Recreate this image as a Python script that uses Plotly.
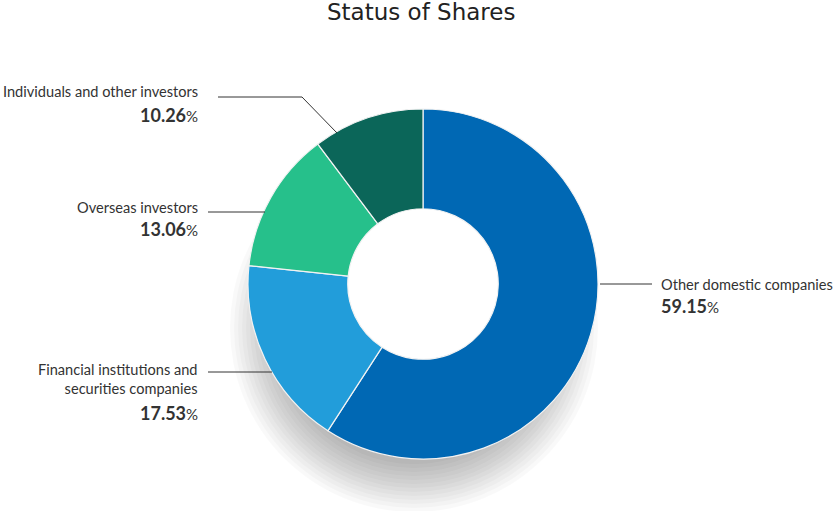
import plotly.graph_objects as go

W, H = 835, 511

# data
labels = ["Other domestic companies", "Financial institutions and<br>securities companies",
          "Overseas investors", "Individuals and other investors"]
values = [59.15, 17.53, 13.06, 10.26]
colors = ["#0068b4", "#229dda", "#26c08b", "#0b6659"]


def px(x):
    return x / W


def py(y):
    return 1 - y / H


fig = go.Figure()

fig.add_trace(go.Pie(
    labels=labels, values=values, sort=False, direction="clockwise",
    hole=0.43, textinfo="none", hoverinfo="label+percent",
    marker=dict(colors=colors, line=dict(color="#f2f2f2", width=1.2)),
    domain=dict(x=[px(248), px(598)], y=[py(459), py(109)]),
    showlegend=False,
))

shapes = []
# soft drop shadow behind the donut (bottom-left)
cx, cy = 414, 328
for r in range(136, 188, 4):
    shapes.append(dict(type="circle", xref="paper", yref="paper", layer="below",
                       x0=px(cx - r), x1=px(cx + r), y0=py(cy + r), y1=py(cy - r),
                       fillcolor="rgba(0,0,0,0.022)", line=dict(width=0)))
# keep the hole white
shapes.append(dict(type="circle", xref="paper", yref="paper", layer="below",
                   x0=px(423 - 76), x1=px(423 + 76), y0=py(284 + 76), y1=py(284 - 76),
                   fillcolor="white", line=dict(width=0)))

# leader lines (pixel paths)
leaders = [
    [(600, 284), (652, 284)],
    [(208, 372), (272, 372)],
    [(208, 212), (265, 212)],
    [(218, 97), (302, 97), (337, 133)],
]
for pts in leaders:
    path = "M " + " L ".join(f"{px(x)},{py(y)}" for x, y in pts)
    shapes.append(dict(type="path", xref="paper", yref="paper", path=path,
                       line=dict(color="#333333", width=1)))

# label positions: (x, y of name, y of percent, anchor)
label_pos = [
    (659, 284, 306, "left"),
    (200, 379, 413, "right"),
    (200, 207, 229, "right"),
    (200, 91, 115, "right"),
]
annotations = []
for lab, val, (x, yn, yp, anc) in zip(labels, values, label_pos):
    annotations.append(dict(x=px(x), y=py(yn), xref="paper", yref="paper",
                            text=lab, showarrow=False, xanchor=anc, yanchor="middle",
                            align=anc, font=dict(family="Lato", size=14.6, color="#333333")))
    annotations.append(dict(x=px(x), y=py(yp), xref="paper", yref="paper",
                            text=f"<b>{val:.2f}</b><span style='font-size:15px'>%</span>",
                            showarrow=False, xanchor=anc, yanchor="middle",
                            font=dict(family="Lato", size=18, color="#333333")))

annotations.append(dict(x=px(421), y=py(12), xref="paper", yref="paper",
                        text="Status of Shares", showarrow=False, xanchor="center",
                        yanchor="middle",
                        font=dict(family="DejaVu Sans", size=23, color="#222222")))

fig.update_layout(
    width=W, height=H, margin=dict(l=0, r=0, t=0, b=0),
    paper_bgcolor="white", plot_bgcolor="white",
    shapes=shapes, annotations=annotations,
)

fig.write_html("out.html", config={"displayModeBar": False},
               post_script="document.body.style.margin='0';")
